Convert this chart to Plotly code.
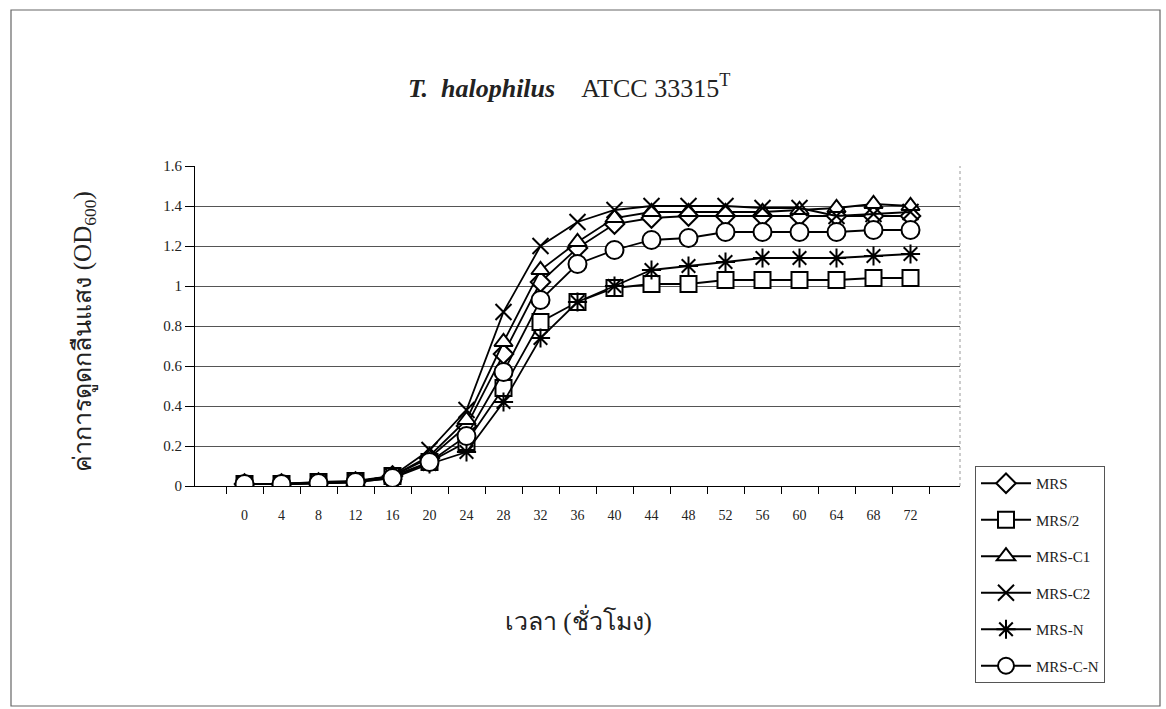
import plotly.graph_objects as go

hours = [0, 4, 8, 12, 16, 20, 24, 28, 32, 36, 40, 44, 48, 52, 56, 60, 64, 68, 72]
x_labels = [str(h) for h in hours]

mrs    = [0.01, 0.01, 0.015, 0.02, 0.05, 0.14, 0.30, 0.66, 1.02, 1.19, 1.31, 1.34, 1.35, 1.35, 1.35, 1.35, 1.35, 1.35, 1.35]
mrs_2  = [0.01, 0.01, 0.02, 0.025, 0.05, 0.12, 0.22, 0.49, 0.82, 0.92, 0.99, 1.01, 1.01, 1.03, 1.03, 1.03, 1.03, 1.04, 1.04]
mrs_c1 = [0.01, 0.01, 0.015, 0.02, 0.05, 0.15, 0.33, 0.72, 1.08, 1.22, 1.34, 1.37, 1.37, 1.37, 1.37, 1.38, 1.39, 1.41, 1.40]
mrs_c2 = [0.01, 0.01, 0.015, 0.02, 0.05, 0.18, 0.38, 0.87, 1.20, 1.32, 1.38, 1.40, 1.40, 1.40, 1.39, 1.39, 1.35, 1.36, 1.37]
mrs_n  = [0.01, 0.01, 0.015, 0.02, 0.04, 0.11, 0.17, 0.42, 0.74, 0.92, 1.00, 1.08, 1.10, 1.12, 1.14, 1.14, 1.14, 1.15, 1.16]
mrs_cn = [0.01, 0.01, 0.015, 0.02, 0.04, 0.12, 0.25, 0.57, 0.93, 1.11, 1.18, 1.23, 1.24, 1.27, 1.27, 1.27, 1.27, 1.28, 1.28]

series_names = ["MRS", "MRS/2", "MRS-C1", "MRS-C2", "MRS-N", "MRS-C-N"]
series_values = [mrs, mrs_2, mrs_c1, mrs_c2, mrs_n, mrs_cn]
symbols = ["diamond", "square", "triangle-up", "x-thin-open", "asterisk-open", "circle"]
sizes = [15, 16, 16, 16, 16, 18]

fig = go.Figure()
for name, vals, sym, sz in zip(series_names, series_values, symbols, sizes):
    line_only = sym.endswith("-open")
    fig.add_trace(go.Scatter(
        x=x_labels, y=vals, name=name, mode="lines+markers",
        line=dict(color="black", width=1.8),
        marker=dict(symbol=sym, size=sz,
                    color="black" if line_only else "white",
                    line=dict(color="black", width=2)),
        legendgroup=name,
    ))

W, H = 1166, 709
L, R, T, B = 195, 206, 166, 223
pw, ph = W - L - R, H - T - B

def px_x(px):
    return (px - L) / pw

def px_y(py):
    return (H - B - py) / ph

# outer chart frame
fig.add_shape(type="rect", xref="paper", yref="paper",
              x0=px_x(11), x1=px_x(1160), y0=px_y(706), y1=px_y(10),
              line=dict(color="#666", width=1.2), fillcolor="rgba(0,0,0,0)", layer="below")
# right edge of the plot area (light)
fig.add_shape(type="line", xref="paper", yref="paper",
              x0=1, x1=1, y0=0, y1=1,
              line=dict(color="#999", width=1, dash="dot"))

font_serif = "Liberation Serif, Times New Roman, serif"

fig.add_annotation(text="<b><i>T.</i></b>&nbsp;&nbsp;<b><i>halophilus</i></b>&nbsp;&nbsp;&nbsp;&nbsp;ATCC 33315<sup>T</sup>",
                   xref="paper", yref="paper", x=px_x(569), y=px_y(68),
                   showarrow=False, font=dict(family=font_serif, size=26, color="#222"))
fig.add_annotation(text="เวลา (ชั่วโมง)",
                   xref="paper", yref="paper", x=px_x(578), y=px_y(638),
                   showarrow=False, font=dict(family=font_serif, size=25, color="#222"))
fig.add_annotation(text="ค่าการดูดกลืนแสง (OD<sub>600</sub>)",
                   xref="paper", yref="paper", x=px_x(66), y=px_y(332),
                   showarrow=False, textangle=-90,
                   font=dict(family=font_serif, size=25, color="#222"))

fig.update_layout(
    width=W, height=H,
    margin=dict(l=L, r=R, t=T, b=B),
    paper_bgcolor="white", plot_bgcolor="white",
    font=dict(family=font_serif, size=14, color="#222"),
    showlegend=True,
    legend=dict(x=px_x(975), y=px_y(466), xanchor="left", yanchor="top",
                bordercolor="#555", borderwidth=1, bgcolor="white",
                font=dict(family=font_serif, size=15, color="#222"),
                tracegroupgap=14, itemwidth=50),
)
fig.update_xaxes(type="category", showline=True, linecolor="black", linewidth=1.2,
                 ticks="outside", ticklen=7, tickcolor="black",
                 tickson="boundaries", showgrid=False, ticklabelstandoff=16,
                 tickfont=dict(family=font_serif, size=14))
fig.update_yaxes(range=[0, 1.6], dtick=0.2, showline=True, linecolor="black", linewidth=1.2,
                 ticks="outside", ticklen=9, tickcolor="black",
                 showgrid=True, gridcolor="#555", gridwidth=1, zeroline=False,
                 tickfont=dict(family=font_serif, size=15))

fig.write_html("out.html")
